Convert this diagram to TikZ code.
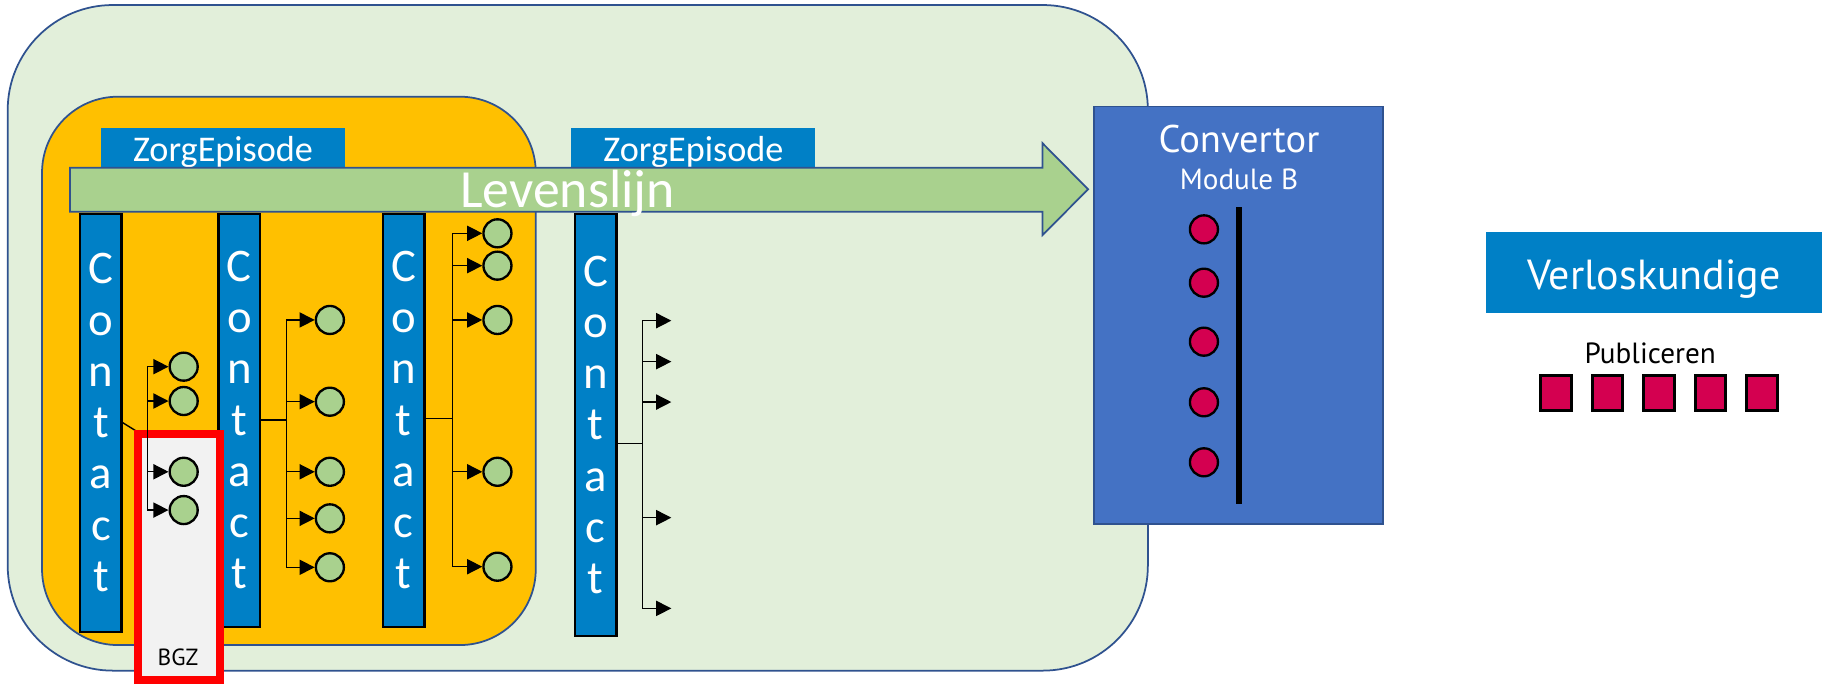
\documentclass[tikz,border=0pt]{standalone}
\usepackage{fontspec}
\setmainfont{Carlito}
\newfontfamily\labelfont{PT Sans}
\usetikzlibrary{arrows.meta}

\definecolor{zorgblue}{HTML}{0080C6}
\definecolor{edgeblue}{HTML}{2F528F}
\definecolor{palegreen}{HTML}{E2EFDA}
\definecolor{lifegreen}{HTML}{A9D18E}
\definecolor{episodeorange}{HTML}{FFC000}
\definecolor{convblue}{HTML}{4472C4}
\definecolor{pubred}{HTML}{D40050}
\definecolor{bgzgray}{HTML}{F2F2F2}

\begin{document}
\begin{tikzpicture}[
        x = 1pt, % one unit per pixel of the sketch
        y = -1pt, % y grows downwards
        > = {Triangle[length=13pt, width=13pt]}, % arrow head style
        line width = 1.2pt, % connector width
        every node/.style = {inner sep=0pt}
      ]

      \tikzstyle{tab}=[rectangle, fill=zorgblue, text=white, anchor=north west, minimum width=209pt, minimum height=40pt, text height=17.2pt, text depth=0pt, font=\fontsize{31}{37}\selectfont]
      \tikzstyle{contact}=[rectangle, draw=black, line width=2pt, fill=zorgblue, text=white, anchor=north, minimum width=35.5pt, align=center, font=\fontsize{40}{43.9}\selectfont]
      \tikzstyle{dot}=[circle, draw=black, line width=2pt, fill=lifegreen, minimum size=24pt]
      \tikzstyle{reddot}=[circle, draw=black, line width=2pt, fill=pubred, minimum size=24pt]
      \tikzstyle{pub}=[rectangle, draw=black, line width=2.5pt, fill=pubred, minimum width=26pt, minimum height=30pt]

      \useasboundingbox (0,0) rectangle (1568,587);

      % containers
      \draw[edgeblue, line width=1.5pt, fill=palegreen, rounded corners=90pt] (6.6,4.3) rectangle (983,574.3);
      \draw[edgeblue, line width=1.5pt, fill=episodeorange, rounded corners=65pt] (36,82.8) rectangle (458.8,552.4);

      \node[tab] (ze1) at (85.9,109) {ZorgEpisode};
      \node[tab] (ze2) at (488.7,109) {ZorgEpisode};

      \node[contact, minimum height=358pt] (c1) at (86.4,182) {C\\o\\n\\t\\a\\c\\t};
      \node[contact, minimum height=353.7pt] (c2) at (205,182) {C\\o\\n\\t\\a\\c\\t};
      \node[contact, minimum height=353.7pt] (c3) at (345.8,182) {C\\o\\n\\t\\a\\c\\t};
      \node[contact, minimum height=361.7pt] (c4) at (510.2,182) {C\\o\\n\\t\\a\\c\\t};

      % levenslijn
      \draw[edgeblue, line width=1.5pt, fill=lifegreen] (60,143.6) -- (892.8,143.6) -- (892.8,122.7) -- (931.8,162.1) -- (892.8,201.3) -- (892.8,181.3) -- (60,181.3) -- cycle;
      \node[text=white, anchor=base, font=\fontsize{46}{55}\selectfont] (life) at (486,177.5) {Levenslijn};

      % first contact, partly inside BGZ
      \coordinate (t1) at (126.2,375);
      \draw (c1.east) -- (t1);
      \node[draw=red, line width=6.5pt, fill=bgzgray, minimum width=70.5pt, minimum height=211pt] (bgz) at (153.2,477) {};
      \node[anchor=base, font=\labelfont\fontsize{20}{24}\selectfont] (bgzt) at (152.4,569.6) {BGZ};
      \node[dot] (g1a) at (157.3,314) {};
      \node[dot] (g1b) at (157.3,343.4) {};
      \node[dot] (g1c) at (157.3,404) {};
      \node[dot] (g1d) at (157.3,436.8) {};
      \draw[->] (t1) |- (g1a);
      \draw[->] (t1) |- (g1b);
      \draw[->] (t1) |- (g1c);
      \draw[->] (t1) |- (g1d);

      % second contact
      \coordinate (t2) at (245.2,359.7);
      \draw (c2.east |- t2) -- (t2);
      \node[dot] (g2a) at (282.5,274) {};
      \node[dot] (g2b) at (282.5,344) {};
      \node[dot] (g2c) at (282.5,404) {};
      \node[dot] (g2d) at (282.5,443.9) {};
      \node[dot] (g2e) at (282.5,485.8) {};
      \draw[->] (t2) |- (g2a);
      \draw[->] (t2) |- (g2b);
      \draw[->] (t2) |- (g2c);
      \draw[->] (t2) |- (g2d);
      \draw[->] (t2) |- (g2e);

      % third contact
      \coordinate (t3) at (387.7,358.5);
      \draw (c3.east |- t3) -- (t3);
      \node[dot] (g3a) at (426,199.8) {};
      \node[dot] (g3b) at (426,227.5) {};
      \node[dot] (g3c) at (426,274) {};
      \node[dot] (g3d) at (426,404) {};
      \node[dot] (g3e) at (426,485.3) {};
      \draw[->] (t3) |- (g3a);
      \draw[->] (t3) |- (g3b);
      \draw[->] (t3) |- (g3c);
      \draw[->] (t3) |- (g3d);
      \draw[->] (t3) |- (g3e);

      % fourth contact, nothing attached yet
      \coordinate (t4) at (550.3,379.7);
      \coordinate (e4a) at (574.9,274.6);
      \coordinate (e4b) at (574.9,309.7);
      \coordinate (e4c) at (574.9,344.3);
      \coordinate (e4d) at (574.9,443.3);
      \coordinate (e4e) at (574.9,521);
      \draw (c4.east |- t4) -- (t4);
      \draw[->] (t4) |- (e4a);
      \draw[->] (t4) |- (e4b);
      \draw[->] (t4) |- (e4c);
      \draw[->] (t4) |- (e4d);
      \draw[->] (t4) |- (e4e);

      % convertor
      \node[rectangle, draw=edgeblue, line width=1.5pt, fill=convblue, minimum width=247.5pt, minimum height=357.6pt] (conv) at (1060.8,270) {};
      \node[anchor=base, text=white, font=\labelfont\fontsize{33}{40}\selectfont] (convt) at (1061,130.7) {Convertor};
      \node[anchor=base, text=white, font=\labelfont\fontsize{25}{30}\selectfont] (convm) at (1061,161.9) {Module B};
      \node[rectangle, fill=black, minimum width=5pt, minimum height=254.3pt] (split) at (1061,304.7) {};
      \node[reddot] (r1) at (1031,196.4) {};
      \node[reddot] (r2) at (1031,242.1) {};
      \node[reddot] (r3) at (1031,292.6) {};
      \node[reddot] (r4) at (1031,344.5) {};
      \node[reddot] (r5) at (1031,395.9) {};

      % verloskundige
      \node[rectangle, fill=zorgblue, text=white, minimum width=288.3pt, minimum height=69.3pt, text height=28.2pt, text depth=0pt, font=\labelfont\fontsize{36}{43}\selectfont] (verlos) at (1416.5,233.7) {Verloskundige};
      \node[anchor=base, font=\labelfont\fontsize{25}{30}\selectfont] (publ) at (1413.2,311.7) {Publiceren};
      \node[pub] (p1) at (1332.5,336.8) {};
      \node[pub] (p2) at (1376.8,336.8) {};
      \node[pub] (p3) at (1420.7,336.8) {};
      \node[pub] (p4) at (1464.8,336.8) {};
      \node[pub] (p5) at (1509,336.8) {};

    \end{tikzpicture}
\end{document}
